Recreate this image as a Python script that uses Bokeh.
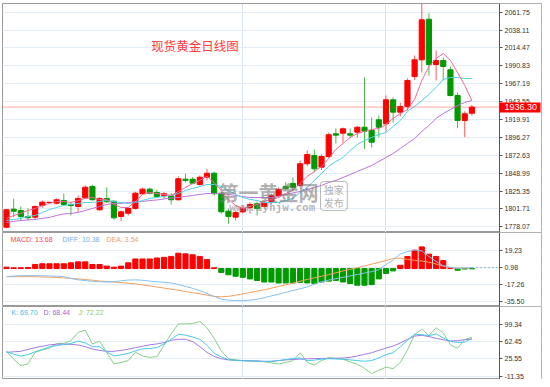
from bokeh.plotting import figure
from bokeh.models import (Range1d, FixedTicker, PrintfTickFormatter, Label, ColumnDataSource,
                          BoxAnnotation, LinearAxis)
from bokeh.layouts import column
from bokeh.embed import file_html
from bokeh.resources import INLINE

# ---------------- data ----------------
opens = [1777.5, 1801.3, 1799.6, 1791.7, 1790.8, 1806.2, 1809.9, 1809.3, 1812.8, 1807.5,
         1804.9, 1816.4, 1831.3, 1800.5, 1815.5, 1811.9, 1791.7, 1796.0, 1802.3, 1821.7,
         1827.8, 1823.4, 1819.1, 1819.1, 1813.8, 1841.0, 1841.0, 1834.0, 1843.6, 1848.9,
         1822.5, 1798.7, 1790.8, 1797.9, 1803.2, 1808.5, 1804.9, 1811.5, 1819.5, 1831.4,
         1835.3, 1832.7, 1861.4, 1872.3, 1856.9, 1871.0, 1901.0, 1901.8, 1901.0, 1903.1,
         1909.7, 1905.4, 1919.5, 1914.2, 1945.9, 1929.6, 1937.1, 1976.7, 1998.8, 2052.5,
         1992.6, 1997.9, 1985.6, 1951.6, 1918.6, 1928.2]
highs = [1801.5, 1815.1, 1804.9, 1802.2, 1806.2, 1812.8, 1811.0, 1815.5, 1822.1, 1810.6,
         1819.5, 1832.7, 1833.6, 1817.2, 1830.4, 1812.8, 1799.6, 1804.0, 1824.3, 1829.6,
         1829.6, 1827.0, 1823.8, 1822.5, 1844.6, 1848.1, 1843.6, 1845.9, 1854.7, 1850.8,
         1824.7, 1802.2, 1799.6, 1806.2, 1810.6, 1811.5, 1811.5, 1822.0, 1830.0, 1837.0,
         1843.2, 1865.7, 1878.9, 1880.2, 1874.0, 1902.7, 1908.0, 1909.3, 1908.0, 1911.0,
         1975.8, 1922.5, 1925.2, 1951.6, 1949.0, 1942.0, 1974.1, 2004.5, 2072.9, 2060.4,
         2011.1, 2001.9, 1990.0, 1955.6, 1930.5, 1939.0]
lows = [1776.0, 1790.8, 1786.4, 1786.4, 1788.0, 1803.2, 1809.5, 1807.5, 1806.2, 1793.0,
        1797.4, 1815.5, 1812.8, 1799.6, 1810.2, 1787.3, 1785.5, 1793.0, 1800.9, 1820.8,
        1820.8, 1817.2, 1815.1, 1807.5, 1812.8, 1837.0, 1834.0, 1832.3, 1839.3, 1819.5,
        1795.2, 1782.0, 1786.4, 1795.6, 1795.6, 1793.0, 1802.2, 1808.0, 1817.0, 1826.0,
        1826.0, 1830.0, 1857.8, 1849.9, 1853.0, 1869.0, 1888.2, 1889.5, 1894.8, 1896.1,
        1881.0, 1882.9, 1896.1, 1904.1, 1915.9, 1923.9, 1931.8, 1972.0, 1982.0, 1978.1,
        1971.5, 1971.5, 1950.3, 1908.4, 1896.5, 1925.2]
closes = [1800.5, 1798.7, 1791.7, 1790.0, 1804.9, 1810.6, 1810.4, 1813.7, 1807.5, 1806.2,
          1815.5, 1830.4, 1813.8, 1815.5, 1811.1, 1789.9, 1797.9, 1802.3, 1822.5, 1827.8,
          1822.5, 1818.1, 1821.7, 1813.8, 1841.5, 1839.3, 1835.7, 1843.6, 1848.9, 1821.7,
          1797.9, 1791.7, 1797.0, 1802.2, 1807.5, 1802.2, 1809.3, 1819.5, 1827.4, 1828.7,
          1830.0, 1861.4, 1873.6, 1854.7, 1871.0, 1899.7, 1899.2, 1907.6, 1899.2, 1909.7,
          1904.5, 1889.9, 1909.7, 1945.9, 1929.6, 1937.1, 1971.5, 1998.8, 2051.7, 1992.6,
          1997.9, 1990.0, 1951.6, 1918.6, 1927.4, 1936.3]

ma5 = [1789.1, 1793.0, 1795.7, 1799.6, 1802.3, 1806.2, 1808.9, 1811.5, 1811.5, 1810.2,
       1812.8, 1815.5, 1816.8, 1814.2, 1814.2, 1807.6, 1803.6, 1803.6, 1811.5, 1820.8,
       1823.4, 1822.1, 1820.8, 1819.5, 1824.7, 1830.0, 1835.3, 1839.3, 1844.6, 1836.6,
       1826.1, 1814.2, 1806.2, 1802.3, 1804.9, 1807.6, 1811.5, 1814.2, 1816.8, 1822.1,
       1826.1, 1835.3, 1844.6, 1851.2, 1857.8, 1868.4, 1880.3, 1888.2, 1896.1, 1901.4,
       1904.1, 1906.7, 1908.0, 1913.3, 1921.2, 1927.8, 1933.1, 1946.4, 1971.5, 1990.0,
       2000.6, 2007.2, 1997.9, 1982.0, 1964.9, 1945.0]
ma10 = [1786.4, 1787.7, 1789.1, 1791.7, 1793.0, 1797.0, 1800.9, 1803.6, 1806.2, 1807.6,
        1808.9, 1810.2, 1810.2, 1811.5, 1812.8, 1811.5, 1810.2, 1808.9, 1810.2, 1812.8,
        1815.5, 1816.8, 1818.1, 1819.5, 1822.1, 1826.1, 1828.7, 1831.3, 1834.0, 1834.0,
        1831.3, 1826.1, 1820.8, 1816.8, 1814.2, 1812.8, 1810.2, 1810.2, 1810.2, 1812.8,
        1815.5, 1823.4, 1830.0, 1839.3, 1848.5, 1857.8, 1864.4, 1869.7, 1878.9, 1886.9,
        1892.2, 1896.1, 1900.1, 1902.7, 1910.7, 1918.6, 1930.5, 1937.1, 1945.0, 1953.0,
        1962.2, 1972.8, 1975.4, 1975.4, 1974.1, 1974.1]
ma20 = [1783.8, 1785.1, 1786.4, 1787.1, 1787.7, 1789.1, 1790.4, 1793.0, 1795.0, 1795.7,
        1797.0, 1799.6, 1802.3, 1804.9, 1807.6, 1808.9, 1808.9, 1810.2, 1810.9, 1811.5,
        1812.8, 1813.5, 1814.8, 1816.1, 1816.8, 1818.1, 1819.5, 1820.8, 1822.1, 1822.1,
        1822.1, 1820.8, 1819.5, 1818.1, 1816.8, 1816.8, 1816.8, 1816.8, 1818.1, 1820.8,
        1822.8, 1824.7, 1827.4, 1830.0, 1832.7, 1836.6, 1839.3, 1843.2, 1847.2, 1851.2,
        1855.1, 1859.1, 1864.4, 1869.7, 1875.0, 1881.6, 1888.2, 1894.8, 1904.1, 1912.0,
        1921.2, 1927.8, 1933.1, 1938.4, 1942.4, 1945.0]

macd = [1.5, 0.8, 0.8, 1.2, 4.3, 5.1, 5.1, 5.1, 5.1, 6.1,
        7.1, 7.1, 4.3, 4.3, 2.6, 1.5, 2.6, 6.1, 10.2, 10.2,
        10.2, 11.2, 11.9, 12.9, 16.3, 15.6, 14.6, 12.9, 9.5, 0.8,
        -4.1, -6.6, -8.2, -9.3, -11.0, -12.7, -14.3, -14.3, -15.3, -15.3,
        -15.3, -14.6, -15.3, -16.0, -14.3, -13.3, -12.6, -14.3, -16.0, -17.7,
        -17.7, -17.0, -11.0, -5.2, -2.5, 3.5, 12.8, 19.5, 23.0, 15.3,
        12.9, 8.4, 0.8, -1.8, -0.5, -0.3]
diff = [-8.6, -8.0, -7.6, -7.5, -7.5, -7.6, -7.8, -8.2, -8.6, -10.5,
        -12.0, -12.8, -13.5, -14.0, -14.3, -14.0, -13.0, -12.2, -12.0, -12.5,
        -13.3, -14.0, -14.6, -15.3, -17.0, -19.0, -21.0, -23.5, -26.5, -29.5,
        -32.5, -33.5, -34.0, -34.1, -33.5, -32.6, -31.0, -29.0, -27.3, -25.3,
        -23.3, -21.5, -19.5, -16.5, -14.0, -12.3, -10.8, -9.3, -7.8, -6.3,
        -4.8, -3.3, -1.2, 4.2, 9.0, 15.5, 18.0, 19.7, 18.8, 12.8,
        7.5, 3.0, 1.3, 0.4, 0.6, 1.0]
dea = [-8.6, -8.6, -8.6, -8.6, -8.7, -8.9, -9.2, -9.5, -9.9, -10.4,
       -11.0, -11.7, -12.4, -13.2, -13.8, -14.3, -14.9, -15.6, -16.3, -17.4,
       -18.5, -19.6, -20.7, -21.9, -23.1, -24.4, -25.6, -26.8, -28.2, -29.6,
       -30.0, -29.5, -28.3, -27.0, -25.5, -24.0, -22.5, -20.8, -19.0, -17.3,
       -15.5, -13.5, -11.5, -9.8, -8.2, -6.5, -4.5, -2.5, -0.8, 1.0,
       2.8, 4.7, 6.5, 8.5, 10.8, 11.0, 9.7, 8.8, 8.0, 6.8,
       4.8, 2.5, 1.0, 0.3, 0.6, 1.0]

k_vals = [41.0, 36, 31.7, 35, 41, 46, 51.5, 54.5, 56.5, 59,
          64, 60, 52, 52, 41, 32, 34.5, 37.5, 43, 47.5,
          48, 50, 58, 68, 79, 77, 73, 68, 55, 38,
          30, 24, 22.5, 21.5, 21, 20.5, 20, 20.5, 22, 24,
          26.5, 27.5, 22, 23, 25, 26, 25.5, 25, 23.5, 22,
          20.5, 22, 28, 35, 39, 52, 66, 79, 78, 76,
          79.5, 71, 63.5, 61, 62, 69.7]
d_vals = [39.9, 41, 42, 46, 50, 53, 56, 57.2, 57.7, 57,
          55.7, 52, 47, 44, 42, 42, 44, 46.5, 50, 53,
          56, 58, 61, 66, 68, 68, 63, 52, 40, 31,
          26, 23.5, 22.5, 22, 21.5, 21, 20.5, 20.2, 22, 23.5,
          24.5, 25, 25.9, 26.3, 26.7, 27, 27.2, 27.5, 29, 32,
          35.5, 39, 44, 49, 53.6, 60, 68, 75, 76.5, 74,
          70, 67, 64.5, 65, 67.4, 68.4]
j_vals = [42, 25, 11.2, 15, 40, 45, 48.9, 59, 59.2, 65,
          83, 88, 58, 64, 40, 14.7, 18, 22, 40, 32,
          29, 30.5, 55, 80, 101, 101.4, 102, 106.5, 93, 70,
          43, 26, 23.5, 22, 21.5, 21, 19.5, 17, 14.7, 18,
          21.5, 38.7, 18.2, 12.6, 22, 28.4, 26.5, 24.9, 19, 14,
          5, -5.8, 1, 7.9, 4.4, 18, 45, 78, 89.9, 76.2,
          93, 82, 55.7, 48.9, 67.4, 72.2]

price_ticks = [1778.07, 1801.71, 1825.35, 1848.99, 1872.63, 1896.27, 1919.91,
               1943.55, 1967.19, 1990.83, 2014.47, 2038.11, 2061.75]
macd_ticks = [-35.50, -17.26, 0.98, 19.23]
kdj_ticks = [-11.35, 25.55, 62.45, 99.34]
period_marks = [33, 53]

title_text = "现货黄金日线图"
macd_labels = [("MACD: 13.68", "#ef4b4b"), ("DIFF: 10.38", "#6fb0ea"), ("DEA: 3.54", "#f0a06a")]
kdj_labels = [("K: 69.70", "#35bddc"), ("D: 68.44", "#9a6ad2"), ("J: 72.22", "#7cc97c")]

# ---------------- styling ----------------
FONT = "Liberation Sans"
UP, DOWN = "#ff0000", "#009a00"
UP_W, DOWN_W = "#ff5a5a", "#4cb84c"
GRID = "#e4edf6"
VGRID = "#d8e4f0"

n = len(closes)
idx = list(range(n))
xr = Range1d(-0.559, 74.72)   # frame spans the whole width, incl. the price-scale strip
AX_X = 68.855                 # x position of the price scale line

def base_fig(h, y0, y1, ticks, top=0):
    p = figure(width=542, height=h, x_range=xr, y_range=Range1d(y0, y1),
               output_backend="svg", toolbar_location=None,
               y_axis_location=None, x_axis_location=None,
               min_border_left=2, min_border_right=1,
               min_border_top=top, min_border_bottom=0,
               background_fill_color="white", border_fill_color="white")
    p.outline_line_color = "#9a9a9a"
    p.outline_line_width = 1
    p.ygrid.ticker = FixedTicker(ticks=ticks)
    p.ygrid.grid_line_color = GRID
    p.xgrid.ticker = FixedTicker(ticks=period_marks)
    p.xgrid.grid_line_color = VGRID
    # white strip behind the price scale (hides grid lines there)
    p.add_layout(BoxAnnotation(left=AX_X, fill_color="white", fill_alpha=1.0,
                               line_color=None, level="underlay"))
    ax = LinearAxis(fixed_location=AX_X, ticker=FixedTicker(ticks=ticks),
                    formatter=PrintfTickFormatter(format="%.2f"))
    ax.major_label_text_font = FONT
    ax.major_label_text_font_size = "7px"
    ax.major_label_text_color = "#333333"
    ax.axis_line_color = "#555555"
    ax.major_tick_line_color = "#555555"
    ax.major_tick_out = 3
    ax.major_tick_in = 0
    ax.minor_tick_line_color = None
    ax.major_label_standoff = 2
    p.add_layout(ax, "right")
    return p

# ---------------- main price panel ----------------
pm = base_fig(232, 1770.5, 2073.25, price_ticks, top=3)

src = ColumnDataSource(dict(
    x=idx, o=opens, h=highs, l=lows, c=closes,
    top=[max(a, b) for a, b in zip(opens, closes)],
    bot=[min(a, b) for a, b in zip(opens, closes)],
    col=[UP if c >= o else DOWN for o, c in zip(opens, closes)],
    wcol=[UP_W if c >= o else DOWN_W for o, c in zip(opens, closes)],
))
pm.segment(x0="x", y0="h", x1="x", y1="l", line_color="wcol", line_width=1, source=src)
pm.vbar(x="x", top="top", bottom="bot", width=0.72, fill_color="col", line_color="col",
        line_width=1, source=src)

pm.line(idx, ma20, line_color="#bd72dc", line_width=1)
pm.line(idx, ma10, line_color="#4fd0e6", line_width=1)
pm.line(idx, ma5, line_color="#f0679c", line_width=1)

# dotted line at the last close
pm.segment(x0=[xr.start], y0=[closes[-1]], x1=[AX_X], y1=[closes[-1]],
           line_color="#ff3030", line_dash="1 1", line_width=1, line_alpha=0.85)

pm.add_layout(Label(x=20.2, y=2018.1, text=title_text, text_font="Noto Sans CJK SC",
                    text_font_size="12.5px", text_color="#ff3b3b", text_baseline="middle"))

# watermark
pm.add_layout(Label(x=29.6, y=1823.4, text="第一黄金网", text_font="Noto Sans CJK SC",
                    text_font_style="bold", text_font_size="20px", text_color="#7c7c7c",
                    text_alpha=0.6, text_baseline="middle"))
pm.add_layout(Label(x=31.1, y=1802.9, text="www.dyhjw.com", text_font="DejaVu Sans Mono",
                    text_font_style="bold", text_font_size="11px", text_color="#8a8a8a",
                    text_alpha=0.6, text_baseline="middle"))
pm.add_layout(BoxAnnotation(left=43.85, right=47.6, top=1837.9, bottom=1799.6,
                            fill_color=None, line_color="#9a9a9a", line_alpha=0.7,
                            line_width=1, border_radius=3))
pm.add_layout(Label(x=44.3, y=1827.4, text="独家", text_font="Noto Sans CJK SC",
                    text_font_size="10px", text_color="#8a8a8a", text_alpha=0.7,
                    text_baseline="middle"))
pm.add_layout(Label(x=44.3, y=1810.2, text="发布", text_font="Noto Sans CJK SC",
                    text_font_size="10px", text_color="#8a8a8a", text_alpha=0.7,
                    text_baseline="middle"))

# current price tag: second scale pinned at the same place, one tick at the last close
tag_axis = LinearAxis(fixed_location=AX_X, ticker=FixedTicker(ticks=[closes[-1]]),
                      formatter=PrintfTickFormatter(format="%.2f"))
tag_axis.axis_line_color = None
tag_axis.minor_tick_line_color = None
tag_axis.major_tick_in = 0
tag_axis.major_tick_out = 41
tag_axis.major_tick_line_width = 10
tag_axis.major_tick_line_color = "#ff0000"
tag_axis.major_tick_line_cap = "butt"
tag_axis.major_label_standoff = -36
tag_axis.major_label_text_color = "white"
tag_axis.major_label_text_font = FONT
tag_axis.major_label_text_font_size = "9px"
pm.add_layout(tag_axis, "right")

# ---------------- MACD panel ----------------
pd_ = base_fig(74, -40.3, 38.3, macd_ticks)
msrc = ColumnDataSource(dict(x=idx, m=macd, col=[UP if v >= 0 else DOWN for v in macd]))
pd_.vbar(x="x", top="m", bottom=0, width=0.72, fill_color="col", line_color="col", source=msrc)
pd_.line(idx, dea, line_color="#f5a05e", line_width=1)
pd_.line(idx, diff, line_color="#86c0f2", line_width=1)
pd_.segment(x0=[idx[-1]], y0=[diff[-1]], x1=[AX_X], y1=[diff[-1]],
            line_color="#8cc4f0", line_dash="2 2", line_width=1)
for (txt, colr), xpos in zip(macd_labels, [0.56, 7.82, 13.97]):
    pd_.add_layout(Label(x=xpos, y=30.9, text=txt, text_font=FONT, text_font_size="7px",
                         text_color=colr, text_baseline="middle"))

# ---------------- KDJ panel ----------------
pk = base_fig(73, -18.9, 138.9, kdj_ticks)
pk.line(idx, j_vals, line_color="#86cf86", line_width=1)
pk.line(idx, d_vals, line_color="#a47ade", line_width=1)
pk.line(idx, k_vals, line_color="#45cbe6", line_width=1)
for (txt, colr), xpos in zip(kdj_labels, [0.70, 5.17, 10.06]):
    pk.add_layout(Label(x=xpos, y=125.4, text=txt, text_font=FONT, text_font_size="7px",
                        text_color=colr, text_baseline="middle"))

layout = column(pm, pd_, pk, spacing=0)
open("out.html", "w").write(file_html(layout, INLINE))
